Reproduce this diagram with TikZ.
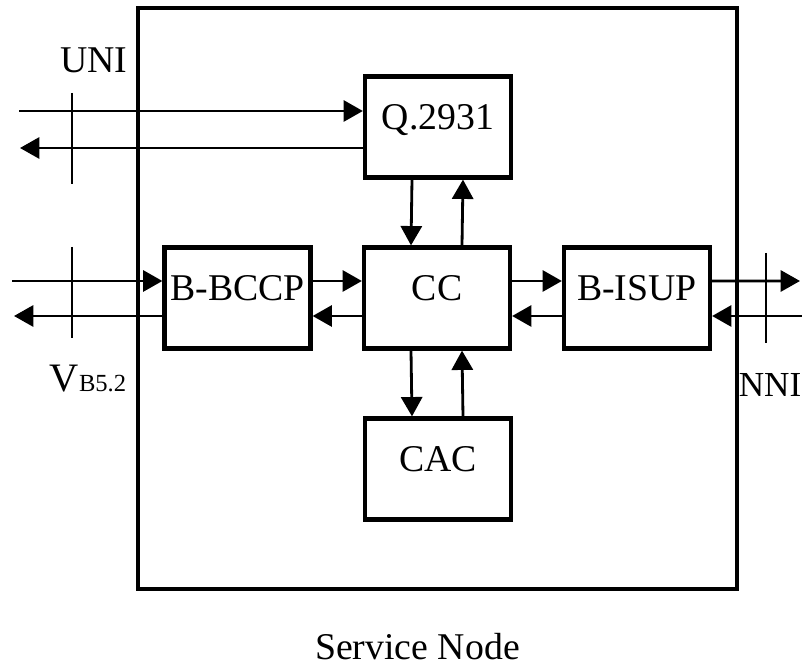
\documentclass[tikz,border=0pt]{standalone}
\usepackage{fontspec}
\setmainfont{Liberation Serif}
\usetikzlibrary{arrows.meta, positioning}

\begin{document}
\begin{tikzpicture}[
      blk/.style={rectangle, draw, line width=2.4pt, inner sep=0pt, minimum width=2.92cm, text height=1.06cm, text depth=0.96cm, font=\fontsize{21.5}{24}\selectfont},
      sig/.style={-{Triangle[length=11pt, width=12pt]}, line width=1.6pt},
      tick/.style={line width=1.6pt},
      lbl/.style={inner sep=0pt, font=\fontsize{21.5}{24}\selectfont}
    ]
      \useasboundingbox (0,0) rectangle (16.04,-13.32);
      \draw[line width=1.8pt] (2.76,-0.16) rectangle (14.74,-11.78);

      \node[blk] (Q) at (8.76,-2.54) {Q.2931};
      \node[blk] (CC) at (8.74,-5.96) {CC};
      \node[blk] (BB) at (4.75,-5.96) {B-BCCP};
      \node[blk] (BI) at (12.74,-5.96) {B-ISUP};
      \node[blk] (CAC) at (8.76,-9.38) {CAC};

      \coordinate (uniIn) at (0.38,-2.22);
      \coordinate (uniOut) at (0.40,-2.96);
      \coordinate (vIn) at (0.24,-5.62);
      \coordinate (vOut) at (0.28,-6.32);
      \coordinate (nniOut) at (16.0,-5.62);
      \coordinate (nniIn) at (16.1,-6.32);

      \draw[sig] (uniIn) -- (uniIn -| Q.west);
      \draw[sig] (uniOut -| Q.west) -- (uniOut);
      \draw[sig] (vIn) -- (vIn -| BB.west);
      \draw[sig] (vOut -| BB.west) -- (vOut);

      \draw[sig] ([yshift=0.34cm]BB.east) -- ([yshift=0.34cm]CC.west);
      \draw[sig] ([yshift=-0.36cm]CC.west) -- ([yshift=-0.36cm]BB.east);
      \draw[sig] ([yshift=0.34cm]CC.east) -- ([yshift=0.34cm]BI.west);
      \draw[sig] ([yshift=-0.36cm]BI.west) -- ([yshift=-0.36cm]CC.east);
      \draw[sig] ([yshift=0.34cm]BI.east) -- (nniOut);
      \draw[sig] (nniIn) -- (nniIn -| BI.east);

      \draw[sig] ([xshift=-0.52cm]Q.south) -- ([xshift=-0.52cm]CC.north);
      \draw[sig] ([xshift=0.5cm]CC.north) -- ([xshift=0.5cm]Q.south);
      \draw[sig] ([xshift=-0.52cm]CC.south) -- ([xshift=-0.52cm]CAC.north);
      \draw[sig] ([xshift=0.5cm]CAC.north) -- ([xshift=0.5cm]CC.south);

      \draw[tick] (1.44,-1.86) -- (1.44,-3.68);
      \draw[tick] (1.44,-4.94) -- (1.44,-6.76);
      \draw[tick] (15.32,-5.06) -- (15.32,-6.86);

      \node[lbl, anchor=base] (uni) at (1.88,-1.46) {UNI};
      \node[lbl, anchor=base] (vb) at (1.76,-7.84) {\fontsize{23}{24}\selectfont V{\fontsize{14}{16}\selectfont B5.2}};
      \node[lbl, anchor=base west, font=\fontsize{20}{22}\selectfont] (nni) at (14.77,-7.94) {NNI};
      \node[lbl, anchor=base] (sn) at (8.35,-13.2) {Service Node};
    \end{tikzpicture}
\end{document}
